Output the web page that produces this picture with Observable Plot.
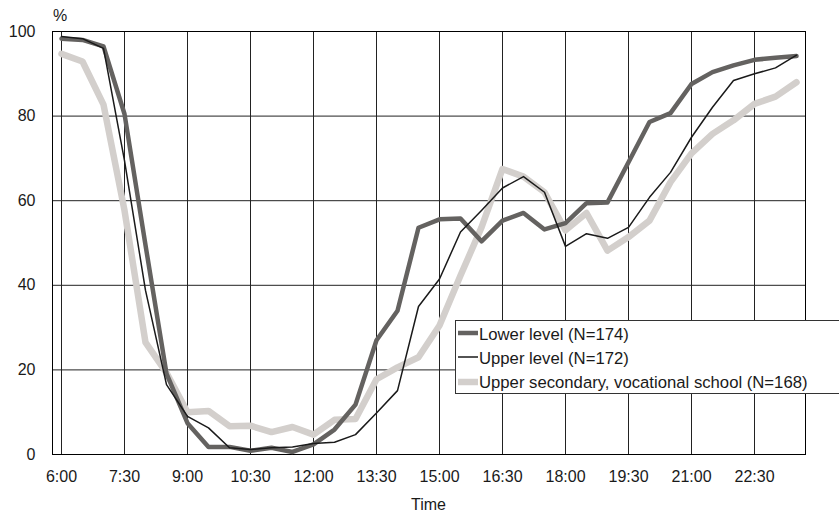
<!DOCTYPE html>
<html>
<head>
<meta charset="utf-8">
<script src="https://cdn.jsdelivr.net/npm/d3@7"></script>
<script src="https://cdn.jsdelivr.net/npm/@observablehq/plot@0.6"></script>
<style>
  html, body { margin: 0; padding: 0; background: #fff; overflow: hidden; }
  #chart { position: relative; width: 839px; height: 512px; }
</style>
</head>
<body>
<div id="chart"></div>
<script>
const times = ["6:00","6:30","7:00","7:30","8:00","8:30","9:00","9:30","10:00","10:30","11:00","11:30",
  "12:00","12:30","13:00","13:30","14:00","14:30","15:00","15:30","16:00","16:30","17:00","17:30",
  "18:00","18:30","19:00","19:30","20:00","20:30","21:00","21:30","22:00","22:30","23:00","23:30"];

const lowerLevel = [98.3,98.0,96.5,80.5,49.5,19.1,7.4,1.8,1.8,0.9,1.6,0.6,
  2.4,5.9,11.8,27.0,34.0,53.6,55.6,55.8,50.4,55.3,57.1,53.2,
  54.7,59.4,59.6,69.1,78.6,80.7,87.6,90.4,92.0,93.3,93.8,94.2];

const upperLevel = [98.8,98.3,96.0,69.5,38.8,16.5,9.0,6.3,1.6,1.2,1.6,1.8,
  2.6,2.9,4.7,9.8,15.1,35.0,41.5,52.6,57.7,63.0,65.7,62.0,
  49.2,52.2,51.1,53.7,60.8,66.7,75.0,82.1,88.4,90.0,91.4,94.4];

const upperSecondary = [94.7,92.9,82.7,57.7,26.5,19.3,10.0,10.3,6.7,6.8,5.3,6.5,
  4.7,8.2,8.4,17.8,20.6,23.0,30.5,42.3,53.7,67.5,65.7,62.0,
  53.0,57.1,48.2,51.4,55.3,64.4,71.2,75.8,79.0,82.9,84.6,88.0];

const seriesNames = ["Lower level (N=174)", "Upper level (N=172)", "Upper secondary, vocational school (N=168)"];
const xTickLabels = ["6:00","7:30","9:00","10:30","12:00","13:30","15:00","16:30","18:00","19:30","21:00","22:30"];
const yTicks = [0, 20, 40, 60, 80, 100];

const styles = [
  {stroke: "#646260", strokeWidth: 4.5},
  {stroke: "#1a1a1a", strokeWidth: 1.5},
  {stroke: "#d3cfcc", strokeWidth: 6.5}
];

const seriesValues = [lowerLevel, upperLevel, upperSecondary];
const rows = [];
seriesValues.forEach((vals, si) => vals.forEach((v, i) => rows.push({time: times[i], value: v, series: seriesNames[si]})));
const lineFor = (si) => Plot.line(rows.filter(d => d.series === seriesNames[si]), {
  x: "time", y: "value", stroke: styles[si].stroke, strokeWidth: styles[si].strokeWidth,
  strokeLinejoin: "round", strokeLinecap: "round"
});

const chart = Plot.plot({
  width: 839,
  height: 512,
  marginLeft: 52,
  marginRight: 34,
  marginTop: 31,
  marginBottom: 58,
  style: {fontFamily: "'Liberation Sans', Arial, sans-serif", fontSize: "16px", color: "#1a1a1a", background: "#fff"},
  x: {type: "point", domain: times, padding: 0, label: null},
  y: {domain: [0, 100], label: null},
  marks: [
    Plot.gridX(xTickLabels, {stroke: "#222", strokeOpacity: 1}),
    Plot.gridY(yTicks, {stroke: "#222", strokeOpacity: 1}),
    Plot.frame({stroke: "#000"}),
    Plot.axisX(xTickLabels, {tickSize: 0, tickPadding: 16, label: null, fontSize: 16}),
    Plot.axisY(yTicks, {tickSize: 0, tickPadding: 17, label: null, fontSize: 16}),
    lineFor(2),
    lineFor(0),
    lineFor(1)
  ]
});

document.getElementById("chart").appendChild(chart);

const svg = d3.select(chart);
svg.style("overflow", "hidden");
svg.append("text").attr("x", 53).attr("y", 21).attr("text-anchor", "start").attr("font-size", 16).attr("fill", "#1a1a1a").text("%");
svg.append("text").attr("x", 428.5).attr("y", 510).attr("text-anchor", "middle").attr("font-size", 16).attr("fill", "#1a1a1a").text("Time");

const lg = svg.append("g").attr("text-anchor", "start");
lg.append("rect").attr("x", 455.5).attr("y", 320.5).attr("width", 400).attr("height", 73)
  .attr("fill", "#fff").attr("stroke", "#333").attr("stroke-width", 1);
const legendOrder = [0, 1, 2];
const swatchY = [333, 357, 382];
const textY = [340, 364, 388];
legendOrder.forEach((si, k) => {
  lg.append("line").attr("x1", 458).attr("x2", 478).attr("y1", swatchY[k]).attr("y2", swatchY[k])
    .attr("stroke", styles[si].stroke).attr("stroke-width", styles[si].strokeWidth);
  lg.append("text").attr("x", 479).attr("y", textY[k]).attr("text-anchor", "start").attr("font-size", 16.7).attr("fill", "#1a1a1a")
    .text(seriesNames[si]);
});
</script>
</body>
</html>
